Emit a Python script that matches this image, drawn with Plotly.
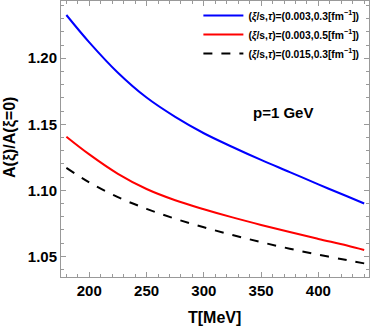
import plotly.graph_objects as go

T = [180, 200, 225, 250, 275, 300, 325, 350, 375, 400, 425, 440]
blue_vals = [1.2327, 1.2120, 1.1890, 1.1702, 1.1556, 1.1432, 1.1328, 1.1230, 1.1138, 1.1045, 1.0955, 1.0900]
red_vals = [1.1406, 1.1272, 1.1125, 1.1010, 1.0925, 1.0857, 1.0795, 1.0738, 1.0684, 1.0632, 1.0582, 1.0548]
black_vals = [1.1170, 1.1060, 1.0948, 1.0860, 1.0785, 1.0720, 1.0662, 1.0608, 1.0558, 1.0513, 1.0472, 1.0447]
names = [
    "(<i>ξ</i>/s,<i>τ</i>)=(0.003,0.3[fm<sup>−1</sup>])",
    "(<i>ξ</i>/s,<i>τ</i>)=(0.003,0.5[fm<sup>−1</sup>])",
    "(<i>ξ</i>/s,<i>τ</i>)=(0.015,0.3[fm<sup>−1</sup>])",
]
colors = ["#0000ff", "#ff0000", "#000000"]
dashes = ["solid", "solid", "dash"]

FONT = "Liberation Sans, Arial"

fig = go.Figure()
for vals, nm, c, d in zip([blue_vals, red_vals, black_vals], names, colors, dashes):
    fig.add_trace(go.Scatter(x=T, y=vals, mode="lines", name=nm,
                             line=dict(color=c, width=2, dash=d, shape="spline", smoothing=1)))

axis_common = dict(
    showgrid=False, zeroline=False, showline=True, linecolor="#999999", linewidth=1,
    mirror="ticks", ticks="inside", ticklen=5, tickcolor="#999999", tickwidth=1,
    automargin=False,
    tickfont=dict(family=FONT, size=15, color="black", weight="bold"),
)
fig.update_xaxes(range=[175.3, 444.2], dtick=50, tick0=200,
                 minor=dict(dtick=10, tick0=200, ticks="inside", ticklen=3, tickcolor="#999999"),
                 **axis_common)
fig.update_yaxes(range=[1.0344, 1.2433], dtick=0.05, tick0=1.05, tickformat=".2f",
                 minor=dict(dtick=0.01, tick0=1.0, ticks="inside", ticklen=3, tickcolor="#999999"),
                 **axis_common)

title_font = dict(family=FONT, size=16, color="black", weight="bold")
fig.add_annotation(x=(214.7 - 61) / 308, y=-(317.5 - 277) / 276, xref="paper", yref="paper",
                   text="T[MeV]", showarrow=False, font=title_font,
                   xanchor="center", yanchor="middle")
fig.add_annotation(x=-(61 - 10) / 308, y=(277 - 138) / 276, xref="paper", yref="paper",
                   text="A(ξ)/A(ξ=0)", showarrow=False, font=title_font, textangle=-90,
                   xanchor="center", yanchor="middle")
fig.add_annotation(x=(282.5 - 61) / 308, y=(277 - 112.5) / 276, xref="paper", yref="paper",
                   text="p=1 GeV", showarrow=False,
                   font=dict(family=FONT, size=15, color="black", weight="bold"),
                   xanchor="center", yanchor="middle")

fig.update_layout(
    width=371, height=330, margin=dict(l=61, r=2, t=1, b=53),
    plot_bgcolor="white", paper_bgcolor="white",
    legend=dict(x=0.985, y=1.0, xanchor="right", yanchor="top", bgcolor="rgba(0,0,0,0)",
                font=dict(family=FONT, size=10.3, color="black", weight="bold"),
                tracegroupgap=0, itemwidth=40),
)
fig.write_html("out.html", config={"displayModeBar": False},
               post_script="document.body.style.margin='0px';document.body.style.padding='0px';")
